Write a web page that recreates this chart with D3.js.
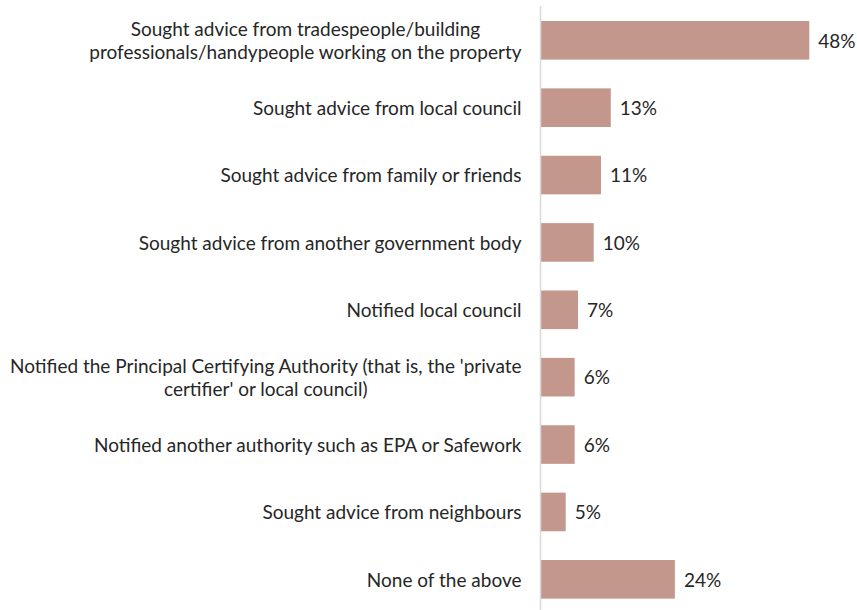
<!DOCTYPE html>
<html>
<head>
<meta charset="utf-8">
<script src="https://cdn.jsdelivr.net/npm/d3@7"></script>
<style>
  body { margin: 0; background: #fff; }
  svg { display: block; font-family: Lato, 'Open Sans', sans-serif; }
</style>
</head>
<body>
<svg width="857" height="610"></svg>
<script>
// categories (line breaks as in the source chart)
const categories = [
    'Sought advice from tradespeople/building\nprofessionals/handypeople working on the property',
    'Sought advice from local council',
    'Sought advice from family or friends',
    'Sought advice from another government body',
    'Notified local council',
    "Notified the Principal Certifying Authority (that is, the 'private\ncertifier' or local council)",
    'Notified another authority such as EPA or Safework',
    'Sought advice from neighbours',
    'None of the above'
];
// percentages
const values = [48.0, 12.55, 10.8, 9.5, 6.7, 6.1, 6.1, 4.5, 24.0];

const svg = d3.select('svg');

const axisX = 540.5;
const plotTop = 6.6;
const plotBottom = 613;

const xScale = d3.scaleLinear()
    .domain([0, 48])
    .range([axisX, 809.3]);

const yScale = d3.scaleBand()
    .domain(categories)
    .range([plotTop, plotBottom])
    .paddingInner(0.427)
    .paddingOuter(0.2135);

// bars
svg.append('g')
    .selectAll('rect')
    .data(values)
    .enter()
    .append('rect')
    .attr('x', xScale(0))
    .attr('y', (d, i) => yScale(categories[i]))
    .attr('width', d => xScale(d) - xScale(0))
    .attr('height', yScale.bandwidth())
    .style('fill', '#c4978d');

// axis line
svg.append('line')
    .attr('x1', axisX)
    .attr('x2', axisX)
    .attr('y1', 6)
    .attr('y2', 610)
    .style('stroke', '#d9d9d9')
    .style('stroke-width', 1.5);

// value labels
svg.append('g')
    .selectAll('text')
    .data(values)
    .enter()
    .append('text')
    .attr('x', d => xScale(d) + 9)
    .attr('y', (d, i) => yScale(categories[i]) + yScale.bandwidth() / 2)
    .attr('dy', '0.38em')
    .style('font-size', '19px')
    .style('fill', '#262626')
    .text(d => Math.round(d) + '%');

// category labels, wrapped lines centred on each other, block right aligned
const lineH = 23.5;
const labels = svg.append('g')
    .selectAll('text')
    .data(categories)
    .enter()
    .append('text')
    .style('font-size', '19px')
    .style('fill', '#262626');

labels.each(function(d) {
    const t = d3.select(this);
    const lines = d.split('\n');
    const cy = yScale(d) + yScale.bandwidth() / 2;
    const y0 = cy - (lines.length - 1) * lineH / 2;
    const spans = lines.map((ln, j) => t.append('tspan')
        .attr('y', y0 + j * lineH)
        .attr('dy', '0.38em')
        .text(ln));
    const widths = spans.map(s => s.node().getComputedTextLength());
    const maxW = d3.max(widths);
    const right = axisX - 19;
    const centre = right - maxW / 2;
    spans.forEach(s => s.attr('x', centre).attr('text-anchor', 'middle'));
});
</script>
</body>
</html>
